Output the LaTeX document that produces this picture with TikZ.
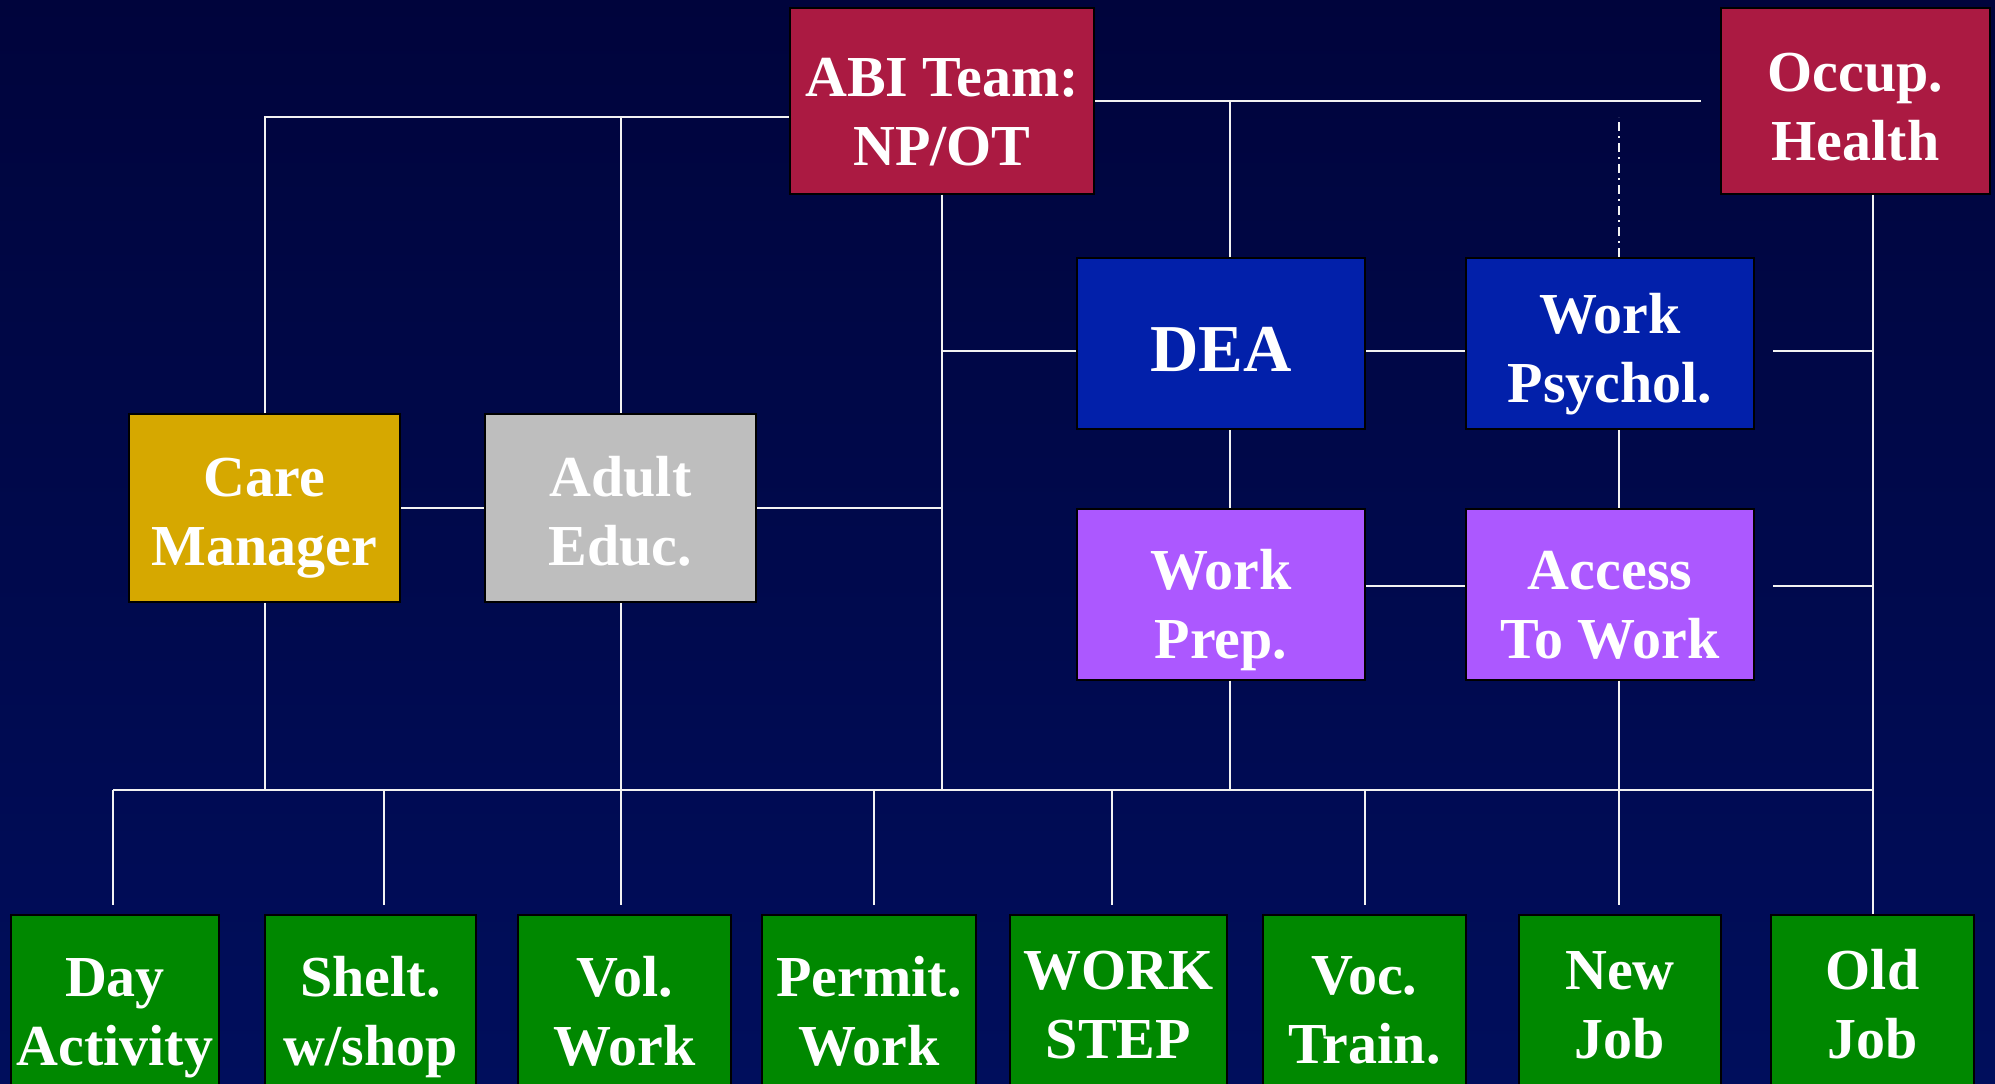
\documentclass[tikz,border=0pt]{standalone}
\usepackage{fontspec}
\setmainfont{Liberation Serif}
\definecolor{bgtop}{RGB}{0,4,60}
\definecolor{bgbot}{RGB}{0,14,92}
\definecolor{abired}{RGB}{171,26,66}
\definecolor{deablue}{RGB}{2,32,170}
\definecolor{prepviolet}{RGB}{172,88,255}
\definecolor{caregold}{RGB}{214,168,0}
\definecolor{adultgray}{RGB}{190,190,190}
\definecolor{jobgreen}{RGB}{0,136,0}
\begin{document}
\begin{tikzpicture}[x=1pt,y=-1pt,
	box/.style={draw=black,line width=2pt,text=white,align=center,inner sep=0pt,text depth=0pt,
		font=\fontsize{58}{69}\selectfont\bfseries},
	topbox/.style={box,fill=abired,minimum width=304,minimum height=186},
	midbox/.style={box,minimum width=288,minimum height=171},
	leftbox/.style={box,minimum width=271,minimum height=188,text height=115},
	jobbox/.style={box,fill=jobgreen,minimum height=204,text height=96},
	wire/.style={white!90!gray,line width=2pt}]
	\useasboundingbox (0,0) rectangle (1995,1084);
	\shade[top color=bgtop,bottom color=bgbot] (0,0) rectangle (1995,1084);
	% teams and services
	\node[topbox,text height=129] (abi) at (942,100.5) {ABI Team:\\NP/OT};
	\node[topbox,minimum width=269,text height=119] (occ) at (1855.5,100.5) {Occup.\\Health};
	\node[midbox,fill=deablue,text height=56,font=\fontsize{67}{70}\selectfont\bfseries] (dea) at (1221,343.5) {DEA};
	\node[midbox,fill=deablue,text height=117] (wps) at (1610,343.5) {Work\\Psychol.};
	\node[midbox,fill=prepviolet,text height=128] (prep) at (1221,594) {Work\\Prep.};
	\node[midbox,fill=prepviolet,text height=128] (atw) at (1610,594) {Access\\To Work};
	\node[leftbox,fill=caregold] (care) at (264.5,508) {Care\\Manager};
	\node[leftbox,fill=adultgray] (adult) at (620.5,508) {Adult\\Educ.};
	% outcomes
	\node[jobbox,minimum width=208] (day) at (115,1017) {Day\\Activity};
	\node[jobbox,minimum width=211] (shelt) at (370.5,1017) {Shelt.\\w/shop};
	\node[jobbox,minimum width=213] (vol) at (624.5,1017) {Vol.\\Work};
	\node[jobbox,minimum width=214] (perm) at (869,1017) {Permit.\\Work};
	\node[jobbox,minimum width=217,text height=82] (ws) at (1118.5,1017) {WORK\\STEP};
	\node[jobbox,minimum width=203,text height=92] (voc) at (1364.5,1017) {Voc.\\Train.};
	\node[jobbox,minimum width=202,text height=82] (new) at (1620,1017) {New\\Job};
	\node[jobbox,minimum width=203,text height=82] (old) at (1872.5,1017) {Old\\Job};
	\coordinate (bus) at (0,790);
	\coordinate (abiL) at ([yshift=-16.5]abi.west);
	\coordinate (deaW) at ([yshift=-7.5]dea.west);
	\coordinate (prepE) at ([yshift=8]prep.east);
	% connectors
	\draw[wire] (care.north) |- (abiL);
	\draw[wire] (adult.north |- abiL) -- (adult.north);
	\draw[wire] (care.east) -- (adult.west);
	\draw[wire] (adult.east) -- (abi.south |- adult.east);
	\draw[wire] (abi.south) -- (abi.south |- bus);
	\draw[wire] (abi.south |- deaW) -- (deaW);
	\draw[wire] (deaW -| dea.east) -- (deaW -| wps.west);
	\draw[wire,shorten >=19pt] (abi.east) -- (occ.west);
	\draw[wire] ([xshift=9]dea.north |- abi.east) -- ([xshift=9]dea.north);
	\draw[wire] ([xshift=9]dea.south) -- ([xshift=9]prep.north);
	\draw[wire] ([xshift=9]prep.south) -- ([xshift=9]prep.south |- bus);
	\draw[wire,dash pattern=on 9pt off 5pt on 2pt off 5pt] ([xshift=9]wps.north) -- ++(0,-140);
	\draw[wire] ([xshift=9]wps.south) -- ([xshift=9]atw.north);
	\draw[wire,shorten >=9pt] ([xshift=9]atw.south) -- ([xshift=9]atw.south |- new.north);
	\draw[wire] (prepE) -- (prepE -| atw.west);
	\draw[wire,shorten <=18pt] (deaW -| wps.east) -- (deaW -| old.north);
	\draw[wire,shorten <=18pt] (prepE -| atw.east) -- (prepE -| old.north);
	\draw[wire] (occ.south -| old.north) -- (old.north);
	\draw[wire] (care.south) -- (care.south |- bus);
	\draw[wire] (adult.south) -- (adult.south |- bus);
	\draw[wire] ([xshift=-2]day.north |- bus) -- (old.north |- bus);
	\foreach \n/\dx in {day/-2,shelt/13,vol/-4,perm/5,ws/-7,voc/0}
		\draw[wire] ([xshift=\dx]\n.north |- bus) -- ([xshift=\dx,yshift=9]\n.north);
\end{tikzpicture}
\end{document}
